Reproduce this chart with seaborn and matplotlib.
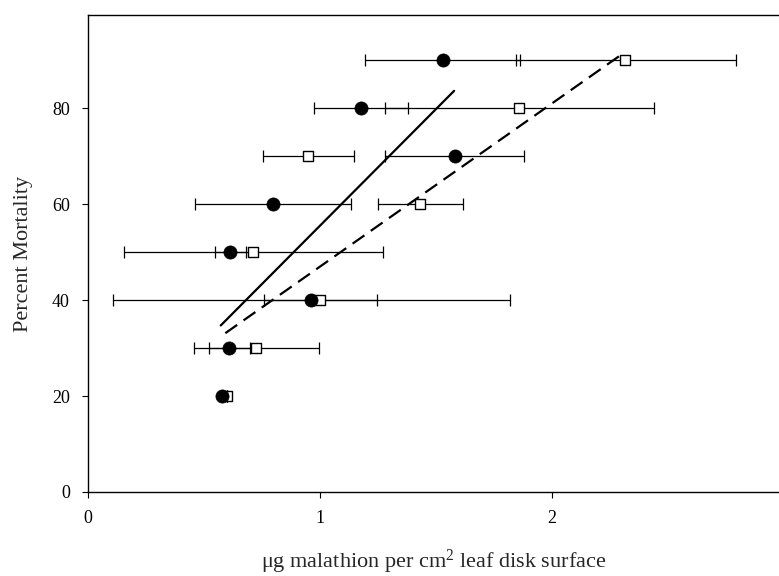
import matplotlib
matplotlib.use("Agg")
import matplotlib.pyplot as plt
import seaborn as sns
import numpy as np
import pandas as pd

# ---- data ----
mortality = [20, 30, 40, 50, 60, 70, 80, 90]

circle_x  = [0.578, 0.608, 0.963, 0.613, 0.797, 1.581, 1.177, 1.528]
circle_lo = [0.578, 0.520, 0.106, 0.546, 0.459, 1.280, 0.974, 1.193]
circle_hi = [0.578, 0.697, 1.820, 0.680, 1.134, 1.878, 1.380, 1.862]

square_x  = [0.600, 0.724, 1.000, 0.712, 1.430, 0.950, 1.858, 2.315]
square_lo = [0.600, 0.456, 0.758, 0.155, 1.250, 0.753, 1.280, 1.845]
square_hi = [0.600, 0.995, 1.245, 1.270, 1.614, 1.145, 2.438, 2.793]

solid_line_x  = [0.572, 1.578]
solid_line_y  = [34.7, 83.6]
dashed_line_x = [0.592, 2.312]
dashed_line_y = [33.1, 91.6]

x_ticks = [0, 1, 2]
y_ticks = [0, 20, 40, 60, 80]

sns.set_style("ticks")
plt.rcParams['font.family'] = ['Liberation Serif', 'DejaVu Serif']
plt.rcParams['mathtext.fontset'] = 'custom'
plt.rcParams['mathtext.rm'] = 'Liberation Serif'
plt.rcParams['mathtext.it'] = 'Liberation Serif:italic'

fig = plt.figure(figsize=(7.79, 5.76), dpi=100)
ax = fig.add_axes([88/779, 84/576, 1 - 88/779, (492-15)/576])

circ = pd.DataFrame({"x": circle_x, "y": mortality, "lo": circle_lo, "hi": circle_hi})
sq = pd.DataFrame({"x": square_x, "y": mortality, "lo": square_lo, "hi": square_hi})

# regression lines
sns.lineplot(x=solid_line_x, y=solid_line_y, ax=ax, color="black", lw=1.6, zorder=2)
sns.lineplot(x=dashed_line_x, y=dashed_line_y, ax=ax, color="black", lw=1.6,
             zorder=2).lines[-1].set_dashes((6.5, 3.5))

# error bars
for df in (sq, circ):
    xerr = np.vstack([df["x"] - df["lo"], df["hi"] - df["x"]])
    ax.errorbar(df["x"], df["y"], xerr=xerr, fmt="none", ecolor="black",
                elinewidth=0.9, capsize=4.5, capthick=0.9, zorder=3)

# markers: squares first, then circles on top
sns.scatterplot(data=sq, x="x", y="y", marker="s", s=55, color="white",
                edgecolor="black", linewidth=1.0, ax=ax, zorder=4)
sns.scatterplot(data=circ, x="x", y="y", marker="o", s=90, color="black",
                edgecolor="black", linewidth=0.5, ax=ax, zorder=5)

ax.set_xlim(0, 2.978)
ax.set_ylim(0, 99.4)
ax.set_xticks(x_ticks)
ax.set_yticks(y_ticks)
ax.set_xticklabels([str(t) for t in x_ticks])
ax.set_yticklabels([str(t) for t in y_ticks])
ax.tick_params(axis="both", direction="out", length=4, width=0.8,
               labelsize=13, colors="black", pad=9)

for side in ("left", "bottom", "top"):
    ax.spines[side].set_visible(True)
    ax.spines[side].set_color("black")
    ax.spines[side].set_linewidth(1.0)
ax.spines["right"].set_visible(False)

ax.set_xlabel("μg malathion per cm$^{2}$ leaf disk surface", fontsize=16, labelpad=15)
ax.set_ylabel("Percent Mortality", fontsize=16, labelpad=14)

fig.savefig("out.png", dpi=100)
